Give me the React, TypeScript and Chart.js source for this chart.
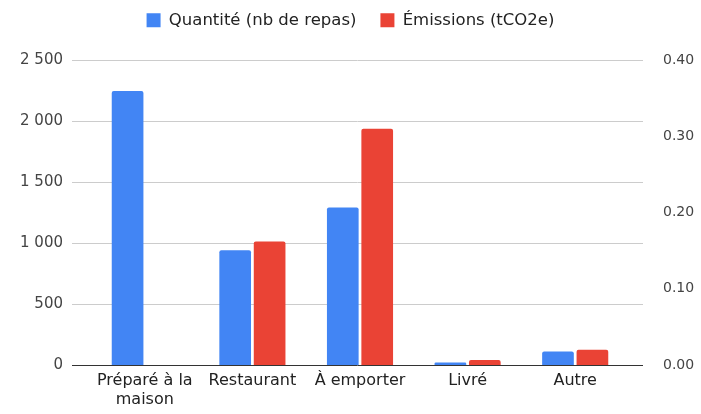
import React, { useEffect, useRef } from "react";
import { Chart, registerables } from "chart.js";

Chart.register(...registerables);

const categories: (string | string[])[] = [["Préparé à la", "maison"], "Restaurant", "À emporter", "Livré", "Autre"];
const quantite: (number | null)[] = [2245, 940, 1290, 20, 110];
const emissions: (number | null)[] = [null, 0.162, 0.31, 0.0065, 0.02];
const leftTicks = [0, 500, 1000, 1500, 2000, 2500];
const rightTicks = [0, 0.1, 0.2, 0.3, 0.4];

const FONT = "'DejaVu Sans', sans-serif";

const frFormat = (v: number) =>
  Math.round(v)
    .toString()
    .replace(/\B(?=(\d{3})+(?!\d))/g, " ");

const gridPlugin = {
  id: "extGrid",
  beforeDatasetsDraw(chart: any) {
    const y = chart.scales.y;
    const area = chart.chartArea;
    const ctx = chart.ctx;
    ctx.save();
    leftTicks.forEach((t) => {
      const py = Math.round(y.getPixelForValue(t)) + 0.5;
      ctx.beginPath();
      ctx.strokeStyle = t === 0 ? "#333333" : "#cccccc";
      ctx.lineWidth = 1;
      ctx.moveTo(area.left - 19, py);
      ctx.lineTo(area.right + 14, py);
      ctx.stroke();
    });
    ctx.restore();
  },
};

const legendSpace = {
  id: "legendSpace",
  afterInit(chart: any) {
    const legend = chart.legend;
    if (!legend) return;
    const orig = legend.fit;
    legend.fit = function () {
      orig.call(this);
      this.height = 72;
    };
  },
};

export default function App() {
  const ref = useRef<HTMLCanvasElement | null>(null);
  useEffect(() => {
    document.body.style.margin = "0";
    if (!ref.current) return;
    const chart = new Chart(ref.current, {
      type: "bar",
      data: {
        labels: categories,
        datasets: [
          {
            label: "Quantité (nb de repas)",
            data: quantite,
            backgroundColor: "#4285F4",
            yAxisID: "y",
            borderRadius: 2,
            categoryPercentage: 0.64,
            barPercentage: 0.92,
          },
          {
            label: "Émissions (tCO2e)",
            data: emissions,
            backgroundColor: "#EA4335",
            yAxisID: "y1",
            borderRadius: 2,
            categoryPercentage: 0.64,
            barPercentage: 0.92,
          },
        ],
      },
      options: {
        animation: false,
        responsive: false,
        maintainAspectRatio: false,
        layout: { padding: { top: -12, bottom: 0, left: 0, right: 0 } },
        plugins: {
          legend: {
            position: "top",
            labels: {
              boxWidth: 14,
              boxHeight: 14,
              padding: 24,
              color: "#222222",
              font: { family: FONT, size: 16.5 },
            },
          },
          tooltip: { enabled: false },
        },
        scales: {
          x: {
            offset: true,
            grid: { display: false, drawTicks: false },
            border: { display: false },
            ticks: {
              padding: 7,
              color: "#222222",
              maxRotation: 0,
              autoSkip: false,
              font: { family: FONT, size: 16, lineHeight: 1.15 },
            },
            afterFit: (s: any) => {
              s.height = 49;
            },
          },
          y: {
            position: "left",
            min: 0,
            max: 2500,
            grid: { display: false, drawTicks: false },
            border: { display: false },
            ticks: {
              stepSize: 500,
              padding: 28,
              color: "#444444",
              font: { family: FONT, size: 15 },
              callback: (v: any) => frFormat(Number(v)),
            },
            afterFit: (s: any) => {
              s.width = 91;
            },
          },
          y1: {
            position: "right",
            min: 0,
            max: 0.4,
            grid: { display: false, drawTicks: false },
            border: { display: false },
            ticks: {
              stepSize: 0.1,
              padding: 34,
              color: "#444444",
              font: { family: FONT, size: 14 },
              callback: (v: any) => Number(v).toFixed(2),
            },
            afterFit: (s: any) => {
              s.width = 72;
            },
          },
        },
      },
      plugins: [legendSpace, gridPlugin],
    });
    return () => chart.destroy();
  }, []);
  return (
    <div style={{ width: 701, height: 414, background: "#ffffff" }}>
      <canvas ref={ref} width={701} height={414} style={{ display: "block" }} />
    </div>
  );
}
